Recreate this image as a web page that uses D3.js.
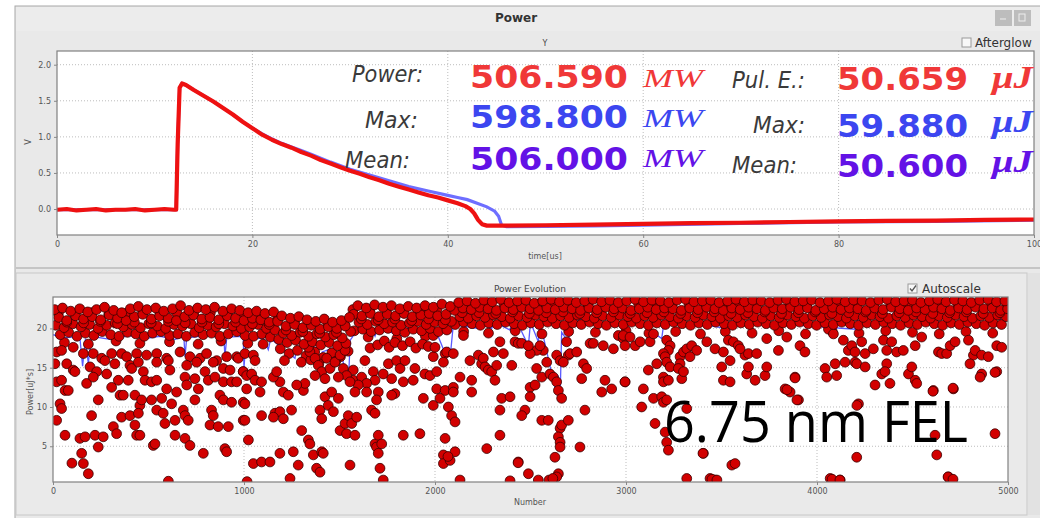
<!DOCTYPE html>
<html><head><meta charset="utf-8">
<script src="https://cdn.jsdelivr.net/npm/d3@7"></script>
<style>body{margin:0;background:#fff;overflow:hidden}svg{display:block}</style>
</head><body>
<svg id="c" width="1040" height="518"></svg>
<script>
// ---------- top chart data (time in us, signal in V) ----------
const redTime = [0,1,2,3,4,5,6,7,8,9,10,11,12,12.2,12.35,12.55,12.8,13.2,14,15,16,17,18,19,20,21,22,23,24,25,26,27,28,29,30,31,32,33,34,35,36,37,38,39,40,41,41.8,42.3,42.7,43.1,43.5,44,46,50,55,60,65,70,75,80,85,90,95,100];
const redVolts = [-0.01,0.0,-0.02,-0.01,0.0,-0.02,-0.01,-0.01,0.0,-0.02,-0.01,0.0,-0.01,-0.01,0.9,1.68,1.74,1.72,1.65,1.57,1.49,1.40,1.31,1.21,1.12,1.03,0.96,0.90,0.85,0.79,0.74,0.68,0.63,0.58,0.53,0.49,0.44,0.40,0.35,0.31,0.27,0.23,0.19,0.16,0.12,0.08,0.04,0.0,-0.06,-0.15,-0.21,-0.23,-0.23,-0.225,-0.215,-0.205,-0.195,-0.19,-0.18,-0.17,-0.165,-0.16,-0.15,-0.145];
const blueTime = [0,12.2,12.35,12.55,12.8,13.2,14,15,16,17,18,19,20,21,22,23,24,25,26,28,30,32,34,36,38,40,41,42,43,44,44.8,45.2,45.5,46,50,55,60,70,80,90,100];
const blueVolts = [-0.01,-0.01,0.9,1.68,1.74,1.72,1.65,1.57,1.49,1.40,1.31,1.21,1.12,1.04,0.97,0.91,0.86,0.81,0.76,0.65,0.55,0.47,0.39,0.31,0.25,0.19,0.16,0.13,0.08,0.03,-0.03,-0.10,-0.22,-0.245,-0.24,-0.235,-0.225,-0.20,-0.18,-0.17,-0.155];
const topXTicks = [0,20,40,60,80,100];
const topYTicks = [0.0,0.5,1.0,1.5,2.0];

// ---------- readouts ----------
const powerLabels = ["Power:","Max:","Mean:"];
const powerValues = ["506.590","598.800","506.000"];
const powerUnit = "MW";
const energyLabels = ["Pul. E.:","Max:","Mean:"];
const energyValues = ["50.659","59.880","50.600"];
const energyUnit = "\u03bcJ";

// ---------- bottom chart data (shot number, power) ----------
const bandRow1 = [[8,22.4],[50,22.6],[93,22.2],[140,22.5],[182,22.1],[228,22.4],[270,22.7],[318,22.3],[360,22.0],[405,22.5],[447,22.8],[492,22.4],[538,22.6],[580,22.2],[626,22.5],[668,22.9],[712,22.3],[757,22.6],[800,22.4],[846,22.7],[890,22.2],[935,22.5],[978,22.3],[1022,22.0],[1066,22.2],[1110,21.9],[1155,22.1],[1198,21.6],[1243,21.3],[1287,21.5],[1330,21.1],[1376,20.9],[1420,21.2],[1464,20.8],[1510,21.0],[1552,21.4],[1596,22.9],[1640,22.6],[1684,23.0],[1728,22.7],[1772,22.9],[1816,22.5],[1860,22.8],[1904,22.6],[1948,22.9],[1992,22.7],[2036,23.1],[2080,22.8],[2124,23.3],[2168,23.5],[2212,23.2],[2256,23.6],[2300,23.4],[2344,23.7],[2388,23.3],[2432,23.5],[2476,23.6],[2520,23.2],[2564,23.5],[2608,23.7],[2652,23.4],[2696,23.6],[2740,23.3],[2784,23.5],[2828,23.7],[2872,23.4],[2916,23.6],[2960,23.3],[3004,23.5],[3048,23.7],[3092,23.4],[3136,23.6],[3180,23.5],[3224,23.3],[3268,23.6],[3312,23.7],[3356,23.4],[3400,23.5],[3444,23.6],[3488,23.3],[3532,23.5],[3576,23.7],[3620,23.4],[3664,23.6],[3708,23.5],[3752,23.3],[3796,23.6],[3840,23.7],[3884,23.4],[3928,23.5],[3972,23.6],[4016,23.3],[4060,23.5],[4104,23.7],[4148,23.4],[4192,23.6],[4236,23.5],[4280,23.3],[4324,23.6],[4368,23.7],[4412,23.4],[4456,23.5],[4500,23.6],[4544,23.3],[4588,23.5],[4632,23.7],[4676,23.4],[4720,23.6],[4764,23.5],[4808,23.3],[4852,23.6],[4896,23.7],[4940,23.4],[4984,23.5]];
const bandRow2 = [[30,21.4],[72,21.0],[118,21.6],[160,21.2],[205,21.5],[250,21.1],[294,21.7],[338,21.3],[383,21.0],[426,21.5],[470,21.8],[515,21.2],[558,21.6],[603,21.3],[646,21.0],[690,21.5],[735,21.7],[779,21.2],[822,21.4],[868,21.1],[912,21.6],[956,21.3],[1000,21.0],[1044,21.3],[1088,21.1],[1132,20.8],[1176,20.9],[1220,20.3],[1265,20.5],[1309,20.1],[1352,20.4],[1398,19.9],[1442,20.2],[1486,20.0],[1530,20.3],[1574,21.8],[1618,21.6],[1662,21.9],[1706,21.5],[1750,21.8],[1794,21.6],[1838,21.9],[1882,21.5],[1926,21.7],[1970,21.9],[2014,21.6],[2058,21.8],[2102,22.3],[2146,22.6],[2190,22.4],[2234,22.7],[2278,22.5],[2322,22.3],[2366,22.6],[2410,22.4],[2454,22.7],[2498,22.5],[2542,22.3],[2586,22.6],[2630,22.4],[2674,22.7],[2718,22.5],[2762,22.3],[2806,22.6],[2850,22.4],[2894,22.7],[2938,22.5],[2982,22.6],[3026,22.3],[3070,22.5],[3114,22.7],[3158,22.4],[3202,22.6],[3246,22.5],[3290,22.3],[3334,22.6],[3378,22.4],[3422,22.7],[3466,22.5],[3510,22.3],[3554,22.6],[3598,22.4],[3642,22.7],[3686,22.5],[3730,22.3],[3774,22.6],[3818,22.5],[3862,22.7],[3906,22.4],[3950,22.6],[3994,22.3],[4038,22.5],[4082,22.7],[4126,22.4],[4170,22.6],[4214,22.5],[4258,22.3],[4302,22.6],[4346,22.4],[4390,22.7],[4434,22.5],[4478,22.3],[4522,22.6],[4566,22.4],[4610,22.7],[4654,22.5],[4698,22.3],[4742,22.6],[4786,22.4],[4830,22.7],[4874,22.5],[4918,22.6],[4962,22.3],[4998,22.5]];
const bandRow3 = [[15,20.4],[58,20.1],[104,20.6],[147,20.2],[192,20.5],[236,20.0],[281,20.4],[325,20.7],[368,20.2],[414,20.5],[458,20.1],[502,20.6],[546,20.3],[590,20.0],[634,20.5],[678,20.3],[722,20.6],[766,20.1],[810,20.4],[854,20.2],[898,20.6],[942,20.3],[986,20.0],[1030,20.2],[1074,20.5],[1118,20.0],[1162,19.8],[1206,19.4],[1250,19.1],[1294,19.5],[1338,19.0],[1382,19.3],[1426,18.9],[1470,19.2],[1514,18.8],[1558,19.6],[1602,20.8],[1646,20.5],[1690,20.9],[1734,20.6],[1778,20.8],[1822,20.4],[1866,20.7],[1910,20.9],[1954,20.5],[1998,20.8],[2042,20.6],[2086,20.9],[2130,21.5],[2174,21.3],[2218,21.6],[2262,21.4],[2306,21.7],[2350,21.5],[2394,21.3],[2438,21.6],[2482,21.4],[2526,21.7],[2570,21.5],[2614,21.3],[2658,21.6],[2702,21.4],[2746,21.7],[2790,21.5],[2834,21.3],[2878,21.6],[2922,21.4],[2966,21.7],[3010,21.5],[3054,21.3],[3098,21.6],[3142,21.4],[3186,21.7],[3230,21.5],[3274,21.3],[3318,21.6],[3362,21.4],[3406,21.7],[3450,21.5],[3494,21.3],[3538,21.6],[3582,21.4],[3626,21.7],[3670,21.5],[3714,21.3],[3758,21.6],[3802,21.4],[3846,21.7],[3890,21.5],[3934,21.3],[3978,21.6],[4022,21.4],[4066,21.7],[4110,21.5],[4154,21.3],[4198,21.6],[4242,21.4],[4286,21.7],[4330,21.5],[4374,21.3],[4418,21.6],[4462,21.4],[4506,21.7],[4550,21.5],[4594,21.3],[4638,21.6],[4682,21.4],[4726,21.7],[4770,21.5],[4814,21.3],[4858,21.6],[4902,21.4],[4946,21.7],[4990,21.5]];
const bandRow4 = [[38,19.2],[82,19.5],[126,19.0],[170,19.4],[214,19.1],[258,19.6],[302,19.2],[346,19.0],[390,19.5],[434,19.3],[478,19.0],[522,19.4],[566,19.6],[610,19.1],[654,19.3],[698,19.0],[742,19.5],[786,19.2],[830,19.4],[874,19.0],[918,19.3],[962,19.6],[1006,19.1],[1050,19.0],[1094,19.3],[1138,18.9],[1182,18.6],[1226,18.2],[1270,18.5],[1314,18.0],[1358,18.3],[1402,17.9],[1446,18.2],[1490,17.8],[1534,18.1],[1578,19.7],[1622,19.9],[1666,19.6],[1710,19.8],[1754,20.0],[1798,19.7],[1842,19.5],[1886,19.9],[1930,19.7],[1974,20.0],[2018,19.6],[2062,19.8],[2106,20.5],[2150,20.8],[2194,20.6],[2238,20.4],[2282,20.7],[2326,20.5],[2370,20.8],[2414,20.6],[2458,20.4],[2502,20.7],[2546,20.5],[2590,20.8],[2634,20.6],[2678,20.4],[2722,20.7],[2766,20.5],[2810,20.8],[2854,20.6],[2898,20.4],[2942,20.7],[2986,20.5],[3030,20.8],[3074,20.6],[3118,20.4],[3162,20.7],[3206,20.5],[3250,20.8],[3294,20.6],[3338,20.4],[3382,20.7],[3426,20.5],[3470,20.8],[3514,20.6],[3558,20.4],[3602,20.7],[3646,20.5],[3690,20.8],[3734,20.6],[3778,20.4],[3822,20.7],[3866,20.5],[3910,20.8],[3954,20.6],[3998,20.4],[4042,20.7],[4086,20.5],[4130,20.8],[4174,20.6],[4218,20.4],[4262,20.7],[4306,20.5],[4350,20.8],[4394,20.6],[4438,20.4],[4482,20.7],[4526,20.5],[4570,20.8],[4614,20.6],[4658,20.4],[4702,20.7],[4746,20.5],[4790,20.8],[4834,20.6],[4878,20.4],[4922,20.7],[4966,20.5]];
const bandMid = [[28,21.9],[72,20.8],[115,21.8],[160,20.7],[204,22.0],[248,20.9],[292,21.8],[338,20.6],[382,21.9],[426,20.8],[470,22.1],[514,20.7],[560,21.9],[604,20.9],[648,22.0],[692,20.7],[736,21.8],[780,20.8],[824,22.0],[868,20.6],[912,21.9],[956,20.8],[1000,21.7],[1044,20.6],[1088,21.6],[1132,20.5],[1176,21.2],[1220,19.8],[1264,20.8],[1308,19.6],[1352,20.6],[1396,19.4],[1440,20.5],[1484,19.5],[1528,20.4],[1570,22.4],[1614,21.2],[1658,22.3],[1702,21.1],[1746,22.4],[1790,21.2],[1834,22.3],[1878,21.0],[1922,22.2],[1966,21.2],[2010,22.4],[2054,21.1],[2098,22.6],[2142,22.0],[2186,23.0],[2230,22.0],[2274,23.1],[2318,21.9],[2362,23.0],[2406,22.1],[2450,23.0],[2494,21.9],[2538,23.1],[2582,22.0],[2626,23.0],[2670,22.1],[2714,23.1],[2758,21.9],[2802,23.0],[2846,22.0],[2890,23.1],[2934,22.1],[2978,23.0],[3022,21.9],[3066,23.1],[3110,22.0],[3154,23.0],[3198,22.1],[3242,23.1],[3286,21.9],[3330,23.0],[3374,22.0],[3418,23.1],[3462,22.1],[3506,23.0],[3550,21.9],[3594,23.1],[3638,22.0],[3682,23.0],[3726,22.1],[3770,23.1],[3814,21.9],[3858,23.0],[3902,22.0],[3946,23.1],[3990,22.1],[4034,23.0],[4078,21.9],[4122,23.1],[4166,22.0],[4210,23.0],[4254,22.1],[4298,23.1],[4342,21.9],[4386,23.0],[4430,22.0],[4474,23.1],[4518,22.1],[4562,23.0],[4606,21.9],[4650,23.1],[4694,22.0],[4738,23.0],[4782,22.1],[4826,23.1],[4870,21.9],[4914,23.0],[4958,22.0],[4995,23.1]];
const bandLow = [[1190,17.4],[1236,16.8],[1280,17.2],[1325,16.5],[1370,17.0],[1415,16.3],[1460,16.9],[1505,16.4],[1545,17.1],[1212,15.9],[1300,15.7],[1392,15.5],[1480,15.8],[1350,16.0],[60,18.2],[185,18.0],[330,18.4],[455,18.1],[610,18.3],[760,18.0],[880,18.4],[1020,18.1],[1100,18.0],[1650,18.9],[1800,18.7],[1950,19.0],[2150,19.6],[2280,19.4],[2420,19.7],[2560,19.3],[2700,19.6],[2840,19.5],[3000,19.7],[3120,19.4],[3260,19.6],[3390,19.3],[3520,19.6],[3660,19.4],[3800,19.7],[3940,19.3],[4080,19.6],[4220,19.4],[4360,19.7],[4500,19.5],[4640,19.3],[4780,19.6],[4920,19.4]];
const outliers = [[19,17.0],[45,17.2],[106,17.6],[159,16.8],[211,16.8],[255,16.2],[307,16.8],[359,16.8],[386,16.4],[438,16.8],[490,16.6],[543,16.8],[595,16.2],[665,17.0],[717,16.4],[770,16.2],[804,16.8],[857,15.9],[909,16.4],[962,16.4],
[10,15.5],[72,15.5],[106,14.7],[194,15.1],[229,14.5],[272,15.9],[324,15.5],[403,15.3],[412,14.9],[447,15.7],[473,14.5],[543,15.7],[604,15.9],[612,14.7],[700,15.3],[752,15.7],[796,14.5],[839,15.7],[892,14.9],[927,14.7],[970,16.2],
[19,13.2],[45,13.4],[63,12.1],[80,12.1],[115,14.5],[176,13.0],[211,13.8],[281,14.2],[307,12.5],[342,13.4],[351,11.5],[394,13.4],[482,13.4],[516,13.2],[543,13.4],[595,12.3],[647,11.9],[691,13.8],[700,12.8],[743,13.6],[761,12.3],[813,13.4],[848,13.8],[892,13.2],[935,13.2],[962,13.2],[996,14.5],
[37,10.4],[45,9.8],[237,10.9],[368,11.5],[429,11.5],[455,10.2],[464,10.9],[516,10.9],[543,9.6],[569,11.1],[621,10.4],[682,9.6],[691,8.9],[743,10.9],[830,9.6],[839,8.9],[874,11.5],[892,10.9],[935,10.6],[996,10.6],
[19,8.3],[202,8.9],[359,8.7],[403,8.9],[447,9.2],[577,9.2],[586,7.9],[639,8.3],[708,8.3],[822,7.7],[865,7.5],[918,7.5],[996,8.3],
[63,6.4],[141,6.0],[168,6.2],[220,6.4],[263,6.2],[316,7.5],[333,6.6],[429,7.7],[438,6.4],[455,6.4],[525,5.1],[534,5.3],[639,6.4],[691,6.0],[717,5.1],[787,4.1],[900,4.7],[909,4.3],[237,4.9],
[150,4.1],[99,2.85],[159,2.8],[185,1.5],[604,0.55],
[1005,16.8],[1049,16.6],[1058,15.9],[996,14.5],[1014,14.0],[1040,14.2],[1058,13.4],[1092,13.2],[1084,11.9],[1014,12.3],[1005,10.4],[1005,8.3],[1023,5.8],[1049,2.8],[1092,3.0],[1136,3.0],[1188,4.1],[1241,0.9],[1258,4.3],[1284,2.6],[1302,7.0],[1337,5.8],[1345,5.3],[1363,3.9],[1380,2.2],[1398,1.7],[1407,4.3],[1415,4.1],[1398,9.6],[1407,8.5],[1424,11.3],[1441,10.2],[1468,9.4],[1459,11.9],[1494,11.1],[1503,7.0],[1529,7.9],[1537,6.6],[1546,8.9],[1564,7.9],[1555,2.6],[1581,6.4],[1590,8.7],
[1162,9.2],[1188,9.4],[1154,8.7],[1206,8.5],[1249,9.6],[1092,8.9],[1206,11.9],[1232,11.5],[1311,12.1],[1319,13.0],[1276,12.8],[1188,13.2],[1154,13.8],[1171,14.5],
[1677,14.5],[1686,13.4],[1729,14.2],[1703,11.9],[1694,10.9],[1668,9.6],[1686,9.2],[1686,5.3],[1694,4.9],[1703,6.4],[1721,5.3],[1703,4.1],[1712,2.2],[1729,0.7],[1756,15.5],[1773,13.6],[1799,15.9],[1817,14.9],[1834,13.2],[1843,15.9],[1886,13.4],[1895,14.9],[1947,14.2],[1939,11.1],[1790,11.7],[1773,11.5],[1834,6.4],[1921,6.6],[1974,14.0],[1991,16.4],
[1572,14.7],[1572,13.4],[1616,13.8],[1633,15.9],[1642,13.0],[1642,11.9],[1598,12.8],[1581,11.9],[1016,0.5],
[1345,17.0],[1372,16.2],[1389,15.3],[1407,14.5],[1433,16.2],[1450,14.9],[1476,15.7],[1503,16.6],[1520,14.9],[1537,14.0],[1555,13.2],[1494,13.8],[1424,13.6],[1372,14.0],[1337,17.6],[1529,17.2],
[1660,17.5],[1700,17.9],[1735,18.4],[1760,17.6],[1790,18.2],[1830,17.8],[1870,18.3],[1900,17.5],[1935,18.0],[1965,17.7],
[1991,19.1],[2000,17.6],[2053,16.8],[2061,17.0],[2096,16.8],[2009,14.5],[2044,15.7],[2009,12.3],[2053,12.1],[2026,11.1],[2096,12.5],[2096,11.9],[2070,10.0],[1991,10.2],[2087,8.9],[2105,8.1],[2053,6.0],[2044,3.9],[2044,2.8],[2079,3.2],[2105,4.3],[2131,0.7],[2149,19.1],[2183,15.9],[2192,13.4],[2192,11.9],[2131,13.8],[2227,16.6],[2244,15.5],[2253,16.2],[2262,15.1],[2279,14.7],[2297,14.5],[2314,13.4],[2323,15.3],[2306,17.0],[2340,18.3],[2358,16.8],[2402,15.3],[2419,18.3],[2436,18.1],[2454,18.1],
[2349,11.1],[2393,11.3],[2340,9.6],[2340,6.4],[2271,4.7],[2436,3.0],[2489,1.5],[2541,0.7],[2471,9.6],[2454,8.9],[2498,12.5],[2524,12.8],[2498,11.3],[2532,14.9],[2559,13.8],[2559,8.3],[2593,8.3],[2567,17.2],[2532,17.2],[2585,15.7],[2602,14.2],[2620,13.8],[2637,13.2],[2646,12.1],[2663,11.1],[2655,7.3],[2663,7.7],[2646,6.2],[2655,5.5],[2655,4.9],[2628,3.6],[2646,1.5],[2637,1.1],[2698,8.3],[2689,18.3],[2698,16.6],[2637,16.6],[2655,15.9],[2672,15.7],[2707,16.8],[2742,17.0],[2777,15.5],[2794,14.9],[2768,13.6],[2759,4.9],[2785,9.6],[2812,18.1],[2829,18.1],[2890,13.4],[2925,12.3],[2873,11.9],[2995,13.2],[2934,17.4],[2960,19.1],[2986,18.7],[2881,17.8],[2498,16.8],[2489,17.8],[2550,17.8],
[2597,0.7],[2617,0.9],[2393,0.6],[2435,2.9],[2068,3.7],
[2986,19.1],[3021,18.9],[2995,17.8],[3048,17.8],[3074,18.3],[3126,18.3],[3144,19.3],[3213,18.5],[3231,17.8],[3222,17.2],[3196,16.8],[3205,16.4],[3213,15.7],[3161,15.5],[3231,15.1],[3283,16.4],[3283,15.5],[3274,14.9],[3301,17.0],[3318,17.4],[3344,17.8],[3370,17.2],[3423,18.3],[3466,17.4],[3510,17.0],[3536,18.5],[3562,18.3],[3588,17.8],[3623,16.6],[3641,16.8],[3684,16.8],[3737,18.7],[3798,17.2],[3842,18.9],[3911,17.8],[3937,17.0],
[2995,13.2],[3091,12.3],[3117,14.7],[3144,11.1],[3196,13.8],[3196,13.2],[3187,11.3],[3196,10.6],[3213,10.9],[3222,13.4],[3292,13.6],[3301,14.5],[3335,16.4],[3501,15.1],[3510,13.4],[3545,15.9],[3545,13.2],[3597,17.4],[3632,14.2],[3641,15.1],[3676,13.4],[3728,14.0],[3737,15.1],[3885,13.8],[3833,12.3],[3859,11.9],[3903,10.9],
[3082,10.0],[3152,7.9],[3205,6.8],[3213,5.5],[3222,4.5],[3318,9.8],[3405,4.1],[3554,2.6],[3571,2.8],[3318,0.9],[3440,0.9],[3466,0.7],[3403,4.1],[3450,0.8],[3476,0.7],[3843,12.2],[3885,13.7],[3895,10.9],
[4060,19.9],[4086,19.3],[4138,18.5],[4164,17.2],[4182,17.8],[4199,17.0],[4234,18.3],[4252,16.8],[4295,17.4],[4348,18.5],[4365,17.2],[4391,18.3],[4417,17.0],[4452,17.2],[4514,17.8],[4548,18.9],[4636,17.0],[4653,16.8],[4679,16.8],[4697,17.8],[4723,18.3],[4793,18.5],[4819,16.6],[4828,17.2],[4862,16.6],[4897,16.4],[4941,17.8],[4967,17.6],
[4042,14.9],[4051,13.8],[4095,15.5],[4103,14.0],[4147,15.7],[4199,15.7],[4208,15.5],[4252,15.1],[4339,14.2],[4365,15.5],[4356,14.5],[4382,13.0],[4479,14.2],[4496,15.1],[4514,13.4],[4522,13.0],[4609,12.1],[4714,12.3],[4801,15.5],[4862,14.2],[4854,13.8],[4941,14.5],[4217,10.4],[4208,3.6],[4304,12.8],[4618,6.4],[4627,3.9],[4688,1.1],[4697,0.7],[4069,0.9],[4121,0.7],[4932,6.6],[4209,10.2],[4712,12.4],[4607,12.0],[4932,14.4],[4079,0.8],[4120,0.7],[4686,1.1],[4712,0.8]];
const meanShot = [0,60,140,155,170,185,200,300,400,480,560,640,685,691,700,800,895,900,910,996,1000,1010,1100,1127,1140,1267,1280,1380,1385,1395,1400,1410,1500,1546,1556,1600,1660,1670,1686,1700,1834,1845,2000,2053,2070,2080,2096,2227,2240,2297,2310,2393,2405,2436,2489,2500,2541,2550,2637,2645,2655,2663,2698,2710,3021,3187,3200,3423,3475,3545,3560,4199,4210,4409,4688,4705,4845,5000];
const meanPower = [19.2,18.8,19.0,15.2,18.7,15.5,19.0,18.6,19.1,18.7,19.0,18.6,19.0,16.4,18.8,19.1,18.8,16.4,18.9,19.0,15.0,18.5,18.8,17.3,18.7,16.2,18.4,17.5,14.2,16.5,13.9,17.0,17.8,12.8,18.5,20.0,19.2,19.9,19.0,20.0,19.0,20.0,20.0,16.8,17.5,16.5,20.5,20.0,20.5,20.0,20.8,19.8,20.8,20.5,17.8,20.8,18.3,20.8,11.5,14.0,11.1,19.5,18.3,21.0,21.6,18.7,21.0,20.4,20.2,19.9,21.0,19.9,21.0,21.8,20.6,20.4,21.5,21.0];
const botXTicks = [0,1000,2000,3000,4000,5000];
const botYTicks = [5,10,15,20];
const annotation = "6.75 nm FEL";

// ---------- drawing ----------
const svg = d3.select("#c");
const tickFont = "DejaVu Sans, sans-serif";

// window chrome
svg.append("rect").attr("x",0).attr("y",0).attr("width",1040).attr("height",518).attr("fill","#ffffff");
svg.append("rect").attr("x",15).attr("y",6).attr("width",1030).attr("height",515).attr("fill","#e9e9e9").attr("stroke","#a8a8a8");
svg.append("rect").attr("x",16).attr("y",7).attr("width",1030).attr("height",24).attr("fill","#ececec");
svg.append("text").attr("x",516).attr("y",22).attr("text-anchor","middle").attr("font-family","DejaVu Sans").attr("font-weight","bold").attr("font-size",12).attr("fill","#333").text("Power");
svg.append("rect").attr("x",995).attr("y",10).attr("width",17).attr("height",16).attr("fill","#bdbdbd");
svg.append("rect").attr("x",1014).attr("y",10).attr("width",17).attr("height",16).attr("fill","#bdbdbd");
svg.append("line").attr("x1",1000).attr("x2",1006).attr("y1",19).attr("y2",19).attr("stroke","#eee");
svg.append("rect").attr("x",1019).attr("y",14).attr("width",6).attr("height",7).attr("fill","none").attr("stroke","#eee");
// splitter lines
svg.append("line").attr("x1",16).attr("x2",1040).attr("y1",268).attr("y2",268).attr("stroke","#b8b8b8").attr("stroke-width",1.5);
svg.append("rect").attr("x",16).attr("y",273).attr("width",1011).attr("height",242).attr("fill","#eaeaea").attr("stroke","#c8c8c8");
svg.append("rect").attr("x",1028).attr("y",273).attr("width",12).attr("height",242).attr("fill","#e2e2e2");

function checkbox(x,y,checked){
  svg.append("rect").attr("x",x).attr("y",y).attr("width",9).attr("height",9).attr("fill","#f8f8f8").attr("stroke","#9a9a9a");
  if(checked) svg.append("path").attr("d",`M${x+2},${y+4.5} L${x+4},${y+7} L${x+8},${y+1.5}`).attr("fill","none").attr("stroke","#555").attr("stroke-width",1.3);
}

// ---------- top chart ----------
const xT = d3.scaleLinear().domain([0,100]).range([57,1034]);
const yT = d3.scaleLinear().domain([-0.36,2.19]).range([235,51]);
svg.append("rect").attr("x",57).attr("y",51).attr("width",977).attr("height",184).attr("fill","#fff");
const gT = svg.append("g");
gT.selectAll("line.gx").data(topXTicks.slice(1,-1)).join("line").attr("x1",d=>xT(d)).attr("x2",d=>xT(d)).attr("y1",51).attr("y2",235).attr("stroke","#bdbdbd").attr("stroke-dasharray","1,2");
gT.selectAll("line.gy").data(topYTicks).join("line").attr("x1",57).attr("x2",1034).attr("y1",d=>yT(d)).attr("y2",d=>yT(d)).attr("stroke","#bdbdbd").attr("stroke-dasharray","1,2");

const lineT = (ts,vs)=>d3.line().x((d,i)=>xT(ts[i])).y(d=>yT(d))(vs);
gT.append("path").attr("d",lineT(blueTime,blueVolts)).attr("fill","none").attr("stroke","#6e6eff").attr("stroke-width",3.2);
gT.append("path").attr("d",lineT(redTime,redVolts)).attr("fill","none").attr("stroke","#ee1111").attr("stroke-width",4.2).attr("stroke-linejoin","round");

svg.append("rect").attr("x",57).attr("y",51).attr("width",977).attr("height",184).attr("fill","none").attr("stroke","#808080").attr("stroke-width",1.2);
const axTX = svg.append("g").attr("transform","translate(0,235)").call(d3.axisBottom(xT).tickValues(topXTicks).tickFormat(d3.format("d")).tickSize(3));
const axTY = svg.append("g").attr("transform","translate(57,0)").call(d3.axisLeft(yT).tickValues(topYTicks).tickFormat(d3.format(".1f")).tickSize(3));
[axTX,axTY].forEach(a=>{a.select(".domain").remove();a.selectAll("line").attr("stroke","#888");a.selectAll("text").attr("font-family",tickFont).attr("font-size",8).attr("fill","#555");});
svg.append("text").attr("x",545).attr("y",259).attr("text-anchor","middle").attr("font-family",tickFont).attr("font-size",8).attr("fill","#555").text("time[us]");
svg.append("text").attr("transform","translate(31,142) rotate(-90)").attr("text-anchor","middle").attr("font-family",tickFont).attr("font-size",8).attr("fill","#555").text("V");
svg.append("text").attr("x",545).attr("y",46).attr("text-anchor","middle").attr("font-family",tickFont).attr("font-size",8).attr("fill","#444").text("Y");
checkbox(962,38,false);
svg.append("text").attr("x",975).attr("y",47).attr("font-family","DejaVu Sans").attr("font-size",12).attr("fill","#333").text("Afterglow");

// readouts
const rowColors = ["#f03838","#3c46f0","#6312e6"];
const pLab = [{x:352,y:82,w:71},{x:365,y:128,w:53},{x:345,y:168,w:65}];
const pVal = [{y:88},{y:128},{y:170}];
const pUnit = [{y:87},{y:127},{y:167}];
const eLab = [{x:732,y:88,w:73},{x:753,y:133,w:52},{x:732,y:173,w:65}];
const eVal = [{y:90},{y:137},{y:177}];
const eUnit = [{y:88},{y:132},{y:172}];
powerLabels.forEach((t,i)=>{
  svg.append("text").attr("x",pLab[i].x).attr("y",pLab[i].y).attr("font-family","DejaVu Sans").attr("font-style","italic").attr("font-size",23).attr("fill","#3a3a3a").attr("textLength",pLab[i].w).attr("lengthAdjust","spacingAndGlyphs").text(t);
  svg.append("text").attr("x",470).attr("y",pVal[i].y).attr("font-family","DejaVu Sans").attr("font-weight","bold").attr("font-size",32).attr("fill",rowColors[i]).attr("textLength",158).attr("lengthAdjust","spacingAndGlyphs").text(powerValues[i]);
  svg.append("text").attr("x",643).attr("y",pUnit[i].y).attr("font-family","Liberation Serif").attr("font-style","italic").attr("font-size",25).attr("fill",rowColors[i]).attr("textLength",60).attr("lengthAdjust","spacingAndGlyphs").text(powerUnit);
});
energyLabels.forEach((t,i)=>{
  svg.append("text").attr("x",eLab[i].x).attr("y",eLab[i].y).attr("font-family","DejaVu Sans").attr("font-style","italic").attr("font-size",23).attr("fill","#3a3a3a").attr("textLength",eLab[i].w).attr("lengthAdjust","spacingAndGlyphs").text(t);
  svg.append("text").attr("x",837).attr("y",eVal[i].y).attr("font-family","DejaVu Sans").attr("font-weight","bold").attr("font-size",32).attr("fill",rowColors[i]).attr("textLength",131).attr("lengthAdjust","spacingAndGlyphs").text(energyValues[i]);
  svg.append("text").attr("x",992).attr("y",eUnit[i].y).attr("font-family","Liberation Serif").attr("font-style","italic").attr("font-weight","bold").attr("font-size",31).attr("fill",rowColors[i]).attr("textLength",41).attr("lengthAdjust","spacingAndGlyphs").text(energyUnit);
});

// ---------- bottom chart ----------
const xB = d3.scaleLinear().domain([0,5000]).range([53,1008]);
const yB = d3.scaleLinear().domain([0.45,24.0]).range([482,297]);
svg.append("rect").attr("x",53).attr("y",297).attr("width",955).attr("height",185).attr("fill","#fff");
svg.append("defs").append("clipPath").attr("id","clipB").append("rect").attr("x",53).attr("y",297).attr("width",955).attr("height",185);
const gB = svg.append("g").attr("clip-path","url(#clipB)");
gB.selectAll("line.gx").data(botXTicks.slice(1,-1)).join("line").attr("x1",d=>xB(d)).attr("x2",d=>xB(d)).attr("y1",297).attr("y2",482).attr("stroke","#bdbdbd").attr("stroke-dasharray","1,2");
gB.selectAll("line.gy").data(botYTicks).join("line").attr("x1",53).attr("x2",1008).attr("y1",d=>yB(d)).attr("y2",d=>yB(d)).attr("stroke","#bdbdbd").attr("stroke-dasharray","1,2");
gB.append("path").attr("d",d3.line().x((d,i)=>xB(meanShot[i])).y(d=>yB(d))(meanPower)).attr("fill","none").attr("stroke","#5a5aff").attr("stroke-width",1.3);
const allPts = [].concat(bandLow,outliers,bandRow4,bandRow3,bandMid,bandRow2,bandRow1);
gB.selectAll("circle").data(allPts).join("circle").attr("cx",d=>xB(d[0])).attr("cy",d=>yB(d[1])).attr("r",4.9).attr("fill","#d20000").attr("stroke","#3a0000").attr("stroke-width",0.8);
svg.append("rect").attr("x",53).attr("y",297).attr("width",955).attr("height",185).attr("fill","none").attr("stroke","#808080").attr("stroke-width",1.2);
const axBX = svg.append("g").attr("transform","translate(0,482)").call(d3.axisBottom(xB).tickValues(botXTicks).tickFormat(d3.format("d")).tickSize(3));
const axBY = svg.append("g").attr("transform","translate(53,0)").call(d3.axisLeft(yB).tickValues(botYTicks).tickFormat(d3.format("d")).tickSize(3));
[axBX,axBY].forEach(a=>{a.select(".domain").remove();a.selectAll("line").attr("stroke","#888");a.selectAll("text").attr("font-family",tickFont).attr("font-size",8).attr("fill","#555");});
svg.append("text").attr("x",530).attr("y",505).attr("text-anchor","middle").attr("font-family",tickFont).attr("font-size",8).attr("fill","#555").text("Number");
svg.append("text").attr("transform","translate(33,392) rotate(-90)").attr("text-anchor","middle").attr("font-family",tickFont).attr("font-size",8).attr("fill","#555").text("Power[uJ*s]");
svg.append("text").attr("x",530).attr("y",292).attr("text-anchor","middle").attr("font-family",tickFont).attr("font-size",9).attr("fill","#444").text("Power Evolution");
checkbox(908,284,true);
svg.append("text").attr("x",922).attr("y",293).attr("font-family","DejaVu Sans").attr("font-size",12).attr("fill","#333").text("Autoscale");
svg.append("text").attr("x",664).attr("y",442).attr("font-family","Open Sans, Noto Sans, sans-serif").attr("font-size",56).attr("fill","#000").attr("textLength",304).attr("lengthAdjust","spacingAndGlyphs").text(annotation);
</script>
</body></html>
